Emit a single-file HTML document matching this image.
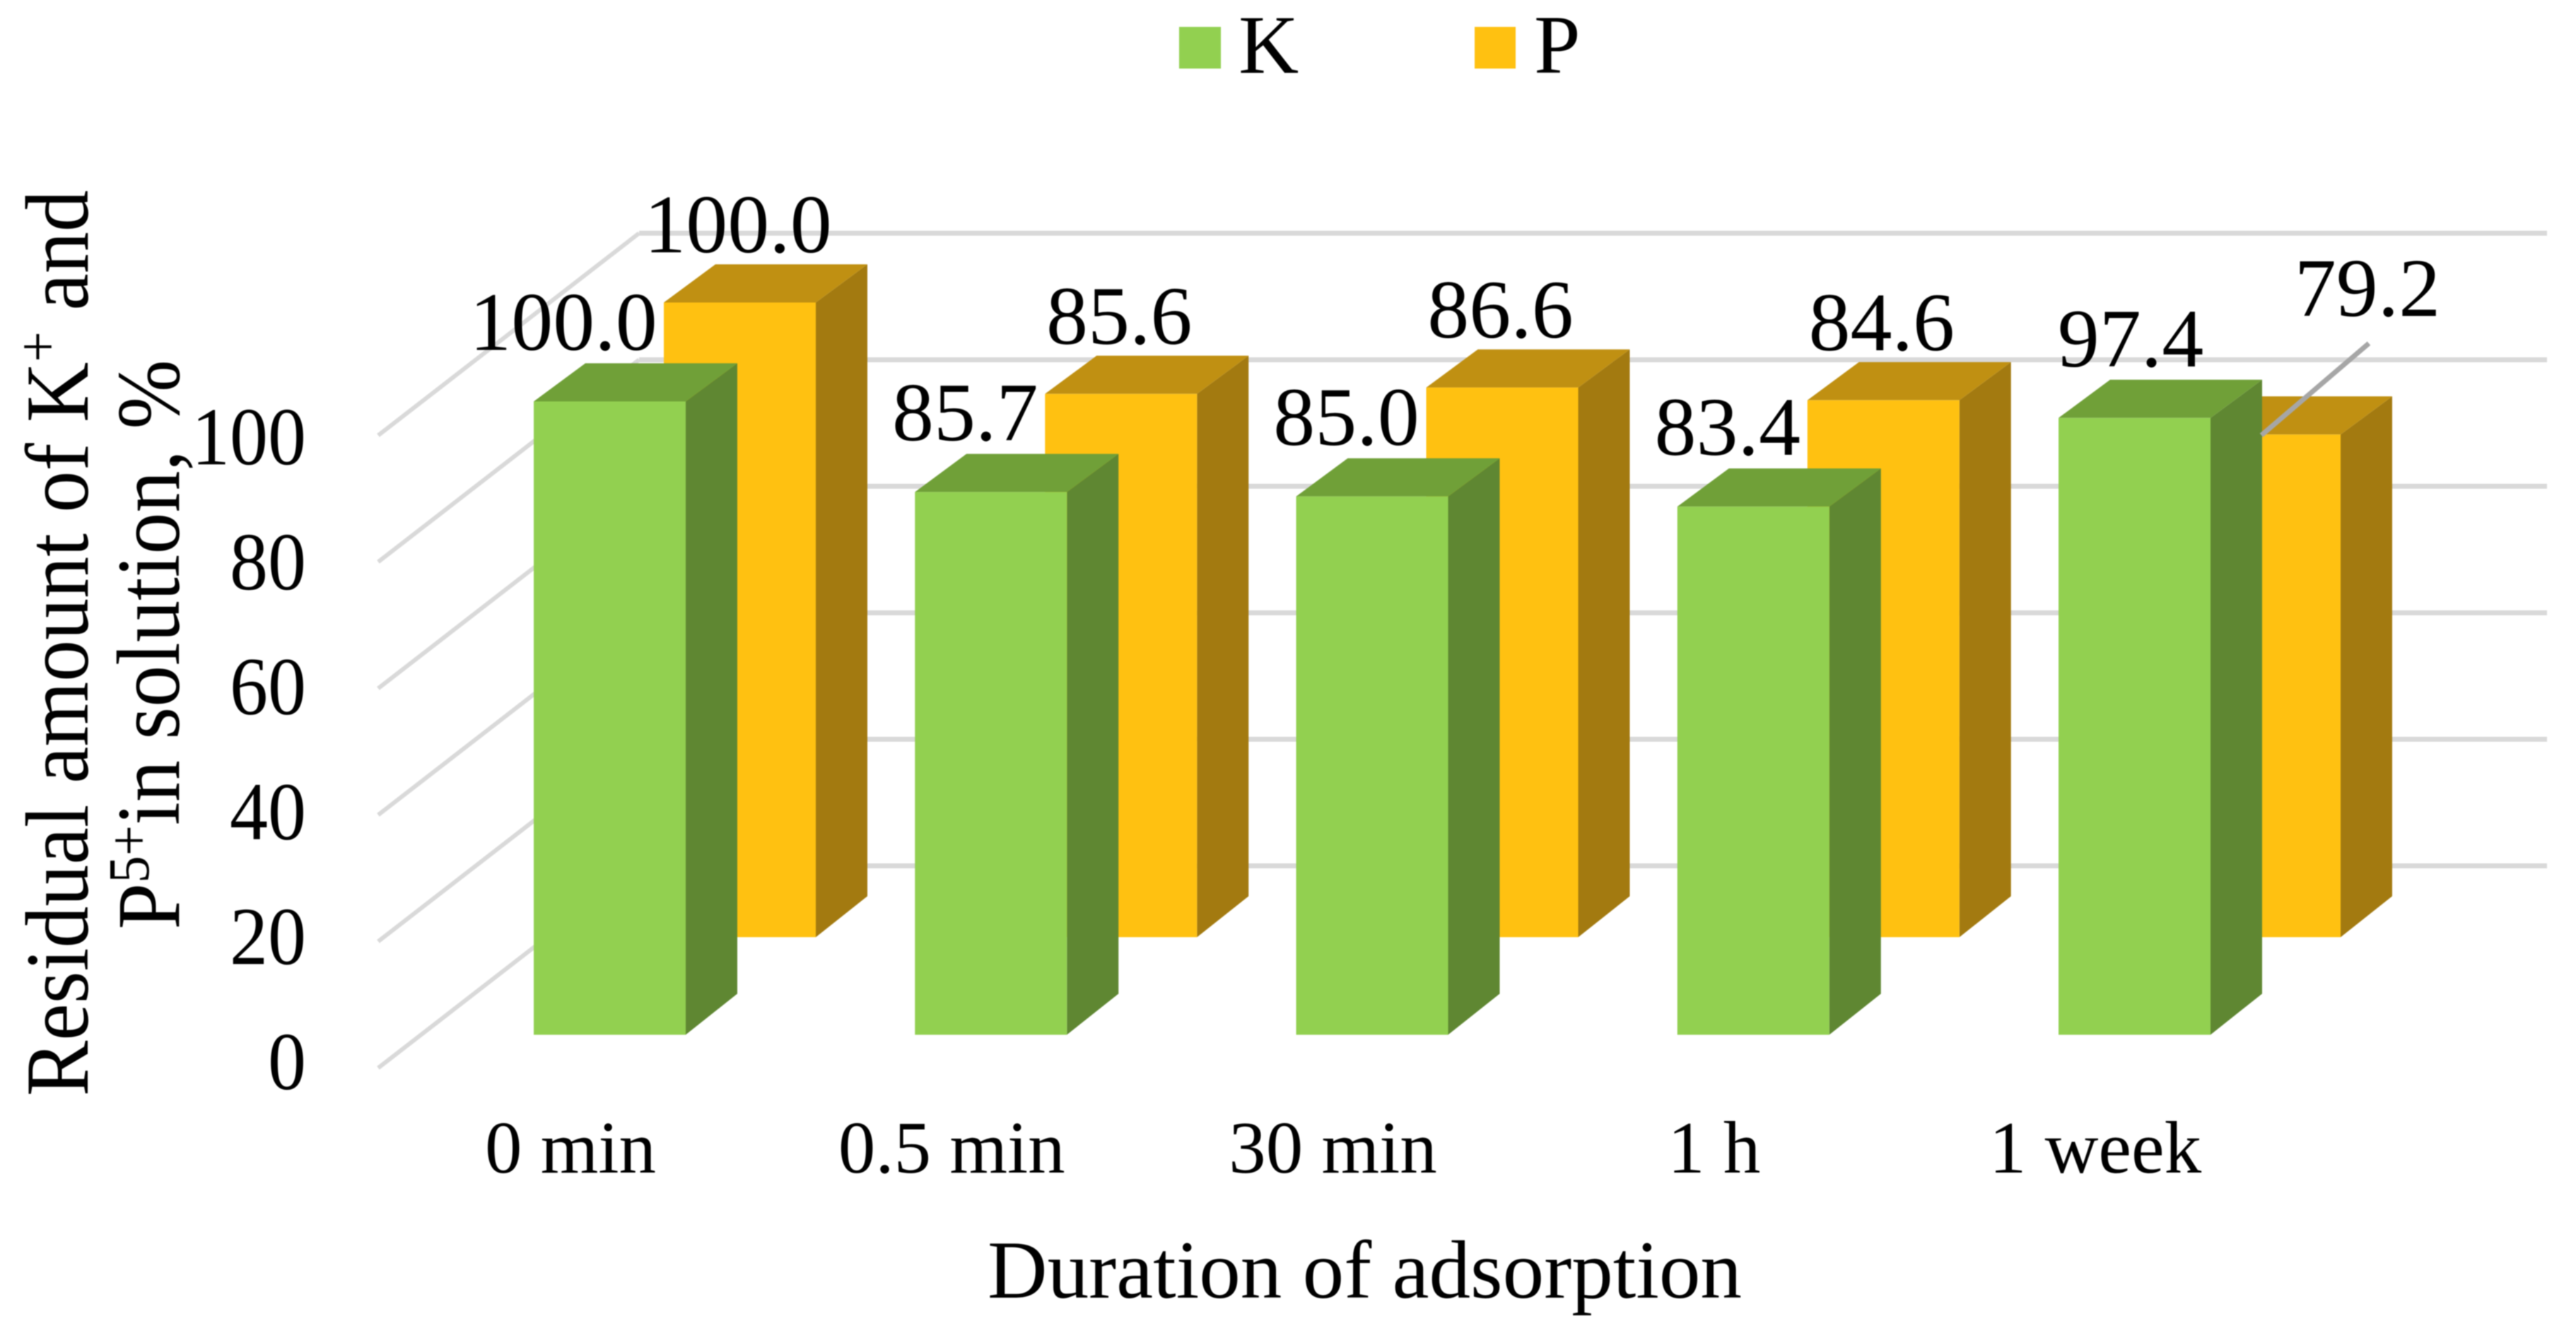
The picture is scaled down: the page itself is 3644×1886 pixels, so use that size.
<!DOCTYPE html>
<html lang="en">
<head>
<meta charset="utf-8">
<title>Residual amount of K+ and P5+ in solution</title>
<style>
html,body{margin:0;padding:0;background:#fff;width:3644px;height:1886px;overflow:hidden}
svg{display:block;filter:blur(0.9px)}
text{font-family:"Liberation Serif",serif;fill:#000}
</style>
</head>
<body>
<svg id="chart" xmlns="http://www.w3.org/2000/svg" width="3644" height="1886" viewBox="0 0 3644 1886">
  <rect x="0" y="0" width="3644" height="1886" fill="#ffffff"/>
  <g id="grid"></g>
  <g id="ticks"></g>
  <g id="bars"></g>
  <g id="cats"></g>
  <g id="labels"></g>

  <g>
    <g>
      <rect x="1668" y="38" width="59" height="59" fill="#92d050"/>
      <text x="1752" y="103" font-size="118">K</text>
    </g>
    <g>
      <rect x="2086" y="38" width="58" height="59" fill="#ffc111"/>
      <text x="2170" y="103" font-size="118">P</text>
    </g>
  </g>

  <text x="1397" y="1836" font-size="117" textLength="1067" lengthAdjust="spacingAndGlyphs">Duration of adsorption</text>

  <g>
    <text transform="translate(124,1551) rotate(-90) scale(1,1.08)" font-size="118" textLength="1282" lengthAdjust="spacingAndGlyphs">Residual amount of K<tspan font-size="77" dy="-40">+</tspan><tspan dy="40"> and</tspan></text>
    <text transform="translate(253,1315) rotate(-90) scale(1,1.08)" font-size="118" textLength="806" lengthAdjust="spacingAndGlyphs">P<tspan font-size="77" dy="-40">5+</tspan><tspan dy="40">in solution, %</tspan></text>
  </g>
</svg>

<script>
const categories = ['0 min', '0.5 min', '30 min', '1 h', '1 week'];
const seriesK = [100.0, 85.7, 85.0, 83.4, 97.4];
const seriesP = [100.0, 85.6, 86.6, 84.6, 79.2];
const tickValues = [0, 20, 40, 60, 80, 100];

const SVG_NS = 'http://www.w3.org/2000/svg';
const gridLayer = document.getElementById('grid');
const tickLayer = document.getElementById('ticks');
const barLayer = document.getElementById('bars');
const catLayer = document.getElementById('cats');
const labelLayer = document.getElementById('labels');

// Axis functions
function yK(v) { return 1464 - v * 8.96; }
function yP(v) { return 1326 - v * 8.98; }
function yGridBack(v) { return 1225 - v * 8.95; }
function yGridFront(v) { return 1511 - v * 8.95; }
function yTick(v) { return 1541 - v * 8.84; }
function xK(i) { return 755 + i * 539.25; }
function xP(i) { return 939 + i * 539.25; }

const BAR_W = 215;
const DEPTH_X = 73;
const DEPTH_TOP = 54;
const DEPTH_BOTTOM = 58;

function make(tag, attrs, parent) {
  const el = document.createElementNS(SVG_NS, tag);
  for (const k in attrs) el.setAttribute(k, attrs[k]);
  parent.appendChild(el);
  return el;
}

// Gridlines and y ticks
tickValues.forEach(function (v) {
  const diag = make('line', { x1: 535, y1: yGridFront(v), x2: 904, y2: yGridBack(v), stroke: '#d9d9d9', 'stroke-width': 6 }, gridLayer);
  
  
  const back = make('line', { x1: 904, y1: yGridBack(v), x2: 3603, y2: yGridBack(v), stroke: '#d9d9d9', 'stroke-width': 7 }, gridLayer);
  
  
  const tick = make('text', { transform: 'translate(433,' + yTick(v) + ') scale(1,1.08)', 'font-size': 108, 'text-anchor': 'end' }, tickLayer);
  
  
  tick.textContent = String(v);
});

// One 3D bar
function drawBar(parent, name, left, value, yFn, colors) {
  const g = make('g', {}, parent);
  
  
  const top = yFn(value);
  const bottom = yFn(0);
  const right = left + BAR_W;
  const sidePts = [right, top, right + DEPTH_X, top - DEPTH_TOP, right + DEPTH_X, bottom - DEPTH_BOTTOM, right, bottom].join(' ');
  const topPts = [left, top, left + DEPTH_X, top - DEPTH_TOP, right + DEPTH_X, top - DEPTH_TOP, right, top].join(' ');
  const side = make('polygon', { points: sidePts, fill: colors.side }, g);
  
  
  const cap = make('polygon', { points: topPts, fill: colors.top }, g);
  
  
  const front = make('rect', { x: left, y: top, width: BAR_W, height: bottom - top, fill: colors.front }, g);
  
  
}

const GREEN = { front: '#92d050', top: '#70a038', side: '#5f8732' };
const AMBER = { front: '#ffc111', top: '#c09012', side: '#a37a10' };

categories.forEach(function (c, i) {
  drawBar(barLayer, 'bar-p-' + i, xP(i), seriesP[i], yP, AMBER);
  drawBar(barLayer, 'bar-k-' + i, xK(i), seriesK[i], yK, GREEN);
});

// Data labels sit above each bar; the first K label and the last K/P labels are shifted as in the source chart
categories.forEach(function (c, i) {
  let kDx = 71;
  if (i === 0) kDx = 42;
  if (i === categories.length - 1) kDx = 102;
  const kText = make('text', { x: xK(i) + kDx, y: yK(seriesK[i]) - 73, 'font-size': 118, 'text-anchor': 'middle' }, labelLayer);
  
  
  kText.textContent = seriesK[i].toFixed(1);

  const last = i === categories.length - 1;
  const pDx = last ? 253 : 105;
  const pDy = last ? 168 : 71;
  const pX = xP(i) + pDx;
  const pY = yP(seriesP[i]) - pDy;
  const pText = make('text', { x: pX, y: pY, 'font-size': 118, 'text-anchor': 'middle' }, labelLayer);
  
  
  pText.textContent = seriesP[i].toFixed(1);

  if (last) {
    const leader = make('line', { x1: pX + 2, y1: pY + 39, x2: xK(i) + BAR_W + DEPTH_X - 1, y2: yP(seriesP[i]) + 1, stroke: '#a6a6a6', 'stroke-width': 7 }, labelLayer);
    
    
  }

  const cat = make('text', { x: xK(i) + 52, y: 1659, 'font-size': 105, 'text-anchor': 'middle' }, catLayer);
  
  
  cat.textContent = c;
});
</script>
</body>
</html>
